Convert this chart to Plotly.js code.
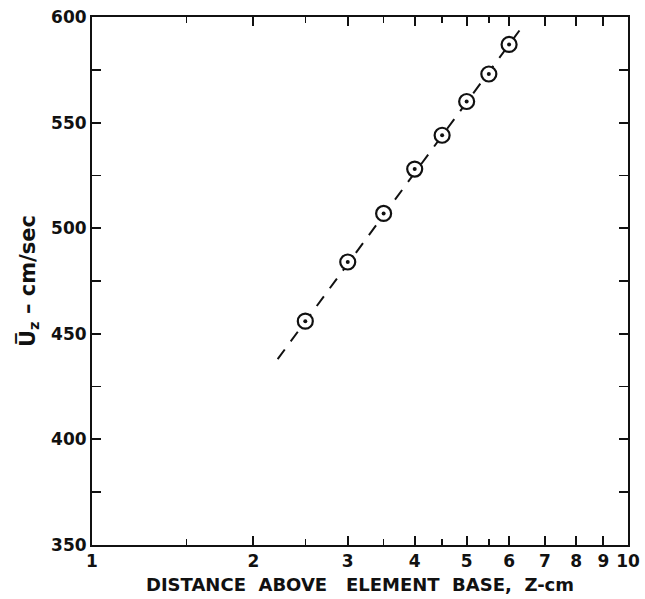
<!DOCTYPE html>
<html>
<head>
<meta charset="utf-8">
<script src="https://cdn.plot.ly/plotly-3.0.1.min.js"></script>
<style>html,body{margin:0;padding:0;background:#fff;}#chart{width:645px;height:599px;}</style>
</head>
<body>
<div id="chart"></div>
<script>
const zDistance = [2.5, 3, 3.5, 4, 4.5, 5, 5.5, 6];
const uVelocity = [456, 484, 507, 528, 544, 560, 573, 587];
const fitLineX = [2.22, 6.29];
const fitLineY = [438, 594];
const xTickVals = [1, 2, 3, 4, 5, 6, 7, 8, 9, 10];
const xTickText = ['1', '2', '3', '4', '5', '6', '7', '8', '9', '10'];
const xMinorVals = [1.5, 2.5, 3.5, 4.5, 5.5];

const fontFam = 'DejaVu Sans, sans-serif';

const traces = [
  {
    x: fitLineX, y: fitLineY, type: 'scatter', mode: 'lines',
    line: {color: '#111', width: 2, dash: '12px,10px'},
    hoverinfo: 'skip', showlegend: false
  },
  {
    x: zDistance, y: uVelocity, type: 'scatter', mode: 'markers',
    marker: {symbol: 'circle', size: 15, color: '#fff', line: {color: '#111', width: 2.2}},
    showlegend: false
  },
  {
    x: zDistance, y: uVelocity, type: 'scatter', mode: 'markers',
    marker: {symbol: 'circle', size: 4, color: '#111', line: {width: 0}},
    hoverinfo: 'skip', showlegend: false
  }
];

const layout = {
  width: 645, height: 599,
  margin: {l: 92, r: 17, t: 17, b: 54},
  paper_bgcolor: '#fff', plot_bgcolor: '#fff',
  showlegend: false,
  xaxis: {
    type: 'log', range: [0, 1],
    tickvals: xTickVals, ticktext: xTickText,
    ticks: 'inside', ticklen: 9, tickwidth: 2, tickcolor: '#111',
    minor: {tickvals: xMinorVals, ticks: 'inside', ticklen: 6, tickwidth: 1.5, tickcolor: '#111', showgrid: false},
    showline: true, linecolor: '#111', linewidth: 2, mirror: 'ticks',
    showgrid: false, zeroline: false,
    tickfont: {family: fontFam, size: 17, color: '#111', weight: 'bold'},
    title: {text: 'DISTANCE  ABOVE   ELEMENT  BASE,  Z-cm', standoff: 8,
      font: {family: fontFam, size: 18, color: '#111', weight: 'bold'}}
  },
  yaxis: {
    range: [350, 600], dtick: 50, tick0: 350,
    ticks: 'inside', ticklen: 9, tickwidth: 2, tickcolor: '#111',
    minor: {dtick: 25, ticks: 'inside', ticklen: 9, tickwidth: 1.5, tickcolor: '#111', showgrid: false},
    showline: true, linecolor: '#111', linewidth: 2, mirror: 'ticks',
    showgrid: false, zeroline: false,
    tickfont: {family: fontFam, size: 17, color: '#111', weight: 'bold'},
    title: {text: 'U\u0305<sub>z</sub> \u2013 cm/sec', standoff: 10,
      font: {family: fontFam, size: 21, color: '#111', weight: 'bold'}}
  }
};

Plotly.newPlot('chart', traces, layout, {displayModeBar: false, staticPlot: true});
</script>
</body>
</html>
